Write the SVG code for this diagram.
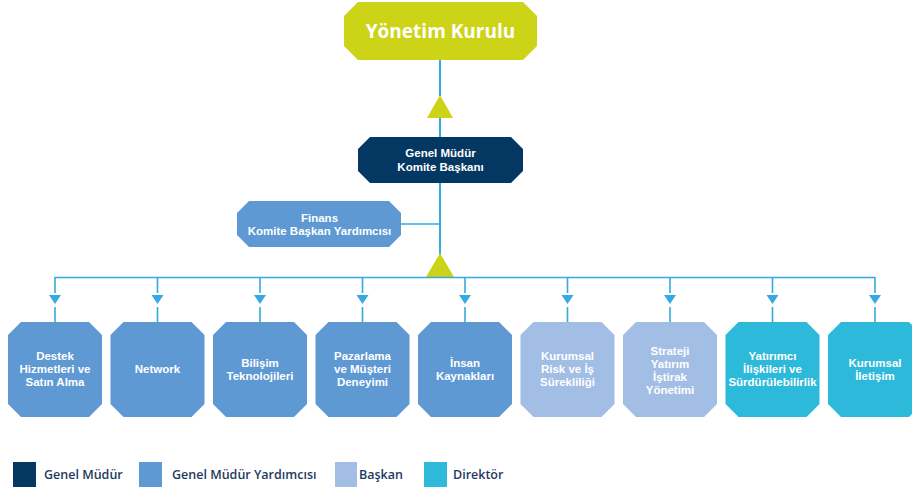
<svg xmlns="http://www.w3.org/2000/svg" width="912" height="493" viewBox="0 0 912 493">
<defs>
<style>
.ln{stroke:#35a9e1;stroke-width:2;fill:none}
.lh{stroke:#35a9e1;stroke-width:1.6;fill:none}
.arr{fill:#35a9e1}
.yk{fill:#cdd418}
.gm{fill:#043862}
.gmy{fill:#5e99d3}
.bk{fill:#a3bee4}
.dr{fill:#2cb9da}
.t{font-family:"Liberation Sans","Arimo",sans-serif;font-weight:700;fill:#ffffff;text-anchor:middle}
.tt{font-family:"Open Sans","Noto Sans","Liberation Sans",sans-serif;font-weight:700;fill:#ffffff;text-anchor:middle}
.bx{font-size:11.5px}
.lg{font-family:"Open Sans","Noto Sans","Liberation Sans",sans-serif;font-weight:600;font-size:12.5px;fill:#1e3a60}
</style>
</defs>
<rect width="912" height="493" fill="#ffffff"/>
<g id="connectors">
<line class="ln" x1="440" y1="60" x2="440" y2="96"/>
<line class="ln" x1="440" y1="117" x2="440" y2="137"/>
<line class="ln" x1="440" y1="183" x2="440" y2="256"/>
<line class="lh" x1="401" y1="224" x2="440" y2="224"/>
<polygon class="yk" points="440,95 453,118 427,118"/>
<polygon class="yk" points="440,253 454,277 426,277"/>
<line class="lh" x1="55" y1="277.5" x2="875" y2="277.5"/>
<g id="drops">
<line class="lh" x1="55" y1="277" x2="55" y2="293"/><polygon class="arr" points="49,295 61,295 55,304"/><line class="lh" x1="55" y1="307" x2="55" y2="322"/>
<line class="lh" x1="157.5" y1="277" x2="157.5" y2="293"/><polygon class="arr" points="151.5,295 163.5,295 157.5,304"/><line class="lh" x1="157.5" y1="307" x2="157.5" y2="322"/>
<line class="lh" x1="260" y1="277" x2="260" y2="293"/><polygon class="arr" points="254,295 266,295 260,304"/><line class="lh" x1="260" y1="307" x2="260" y2="322"/>
<line class="lh" x1="362.5" y1="277" x2="362.5" y2="293"/><polygon class="arr" points="356.5,295 368.5,295 362.5,304"/><line class="lh" x1="362.5" y1="307" x2="362.5" y2="322"/>
<line class="lh" x1="465" y1="277" x2="465" y2="293"/><polygon class="arr" points="459,295 471,295 465,304"/><line class="lh" x1="465" y1="307" x2="465" y2="322"/>
<line class="lh" x1="567.5" y1="277" x2="567.5" y2="293"/><polygon class="arr" points="561.5,295 573.5,295 567.5,304"/><line class="lh" x1="567.5" y1="307" x2="567.5" y2="322"/>
<line class="lh" x1="670" y1="277" x2="670" y2="293"/><polygon class="arr" points="664,295 676,295 670,304"/><line class="lh" x1="670" y1="307" x2="670" y2="322"/>
<line class="lh" x1="772.5" y1="277" x2="772.5" y2="293"/><polygon class="arr" points="766.5,295 778.5,295 772.5,304"/><line class="lh" x1="772.5" y1="307" x2="772.5" y2="322"/>
<line class="lh" x1="875" y1="277" x2="875" y2="293"/><polygon class="arr" points="869,295 881,295 875,304"/><line class="lh" x1="875" y1="307" x2="875" y2="322"/>
</g>
</g>
<g id="yonetim-kurulu">
<polygon class="yk" points="358,2 523,2 537,16 537,46 523,60 358,60 344,46 344,16"/>
<text class="tt" x="440.5" y="38" font-size="19">Yönetim Kurulu</text>
</g>
<g id="genel-mudur">
<polygon class="gm" points="370,137 511,137 523,149 523,171 511,183 370,183 358,171 358,149"/>
<text class="t" x="440.5" y="157" font-size="11.5">Genel Müdür</text>
<text class="t" x="440.5" y="171" font-size="11.5">Komite Başkanı</text>
</g>
<g id="finans">
<polygon class="gmy" points="249,201 389,201 401,213 401,235 389,247 249,247 237,235 237,213"/>
<text class="t" x="319.5" y="222" font-size="11.5">Finans</text>
<text class="t" x="319.5" y="235" font-size="11.5">Komite Başkan Yardımcısı</text>
</g>
<g id="destek">
<polygon class="gmy" points="21,322 89,322 102,335 102,404 89,417 21,417 8,404 8,335"/>
<text class="t bx" x="55" y="360">Destek</text>
<text class="t bx" x="55" y="373">Hizmetleri ve</text>
<text class="t bx" x="55" y="386">Satın Alma</text>
</g>
<g id="network">
<polygon class="gmy" points="123.5,322 191.5,322 204.5,335 204.5,404 191.5,417 123.5,417 110.5,404 110.5,335"/>
<text class="t bx" x="157.5" y="373">Network</text>
</g>
<g id="bilisim">
<polygon class="gmy" points="226,322 294,322 307,335 307,404 294,417 226,417 213,404 213,335"/>
<text class="t bx" x="260" y="366.5">Bilişim</text>
<text class="t bx" x="260" y="379.5">Teknolojileri</text>
</g>
<g id="pazarlama">
<polygon class="gmy" points="328.5,322 396.5,322 409.5,335 409.5,404 396.5,417 328.5,417 315.5,404 315.5,335"/>
<text class="t bx" x="362.5" y="360">Pazarlama</text>
<text class="t bx" x="362.5" y="373">ve Müşteri</text>
<text class="t bx" x="362.5" y="386">Deneyimi</text>
</g>
<g id="insan">
<polygon class="gmy" points="431,322 499,322 512,335 512,404 499,417 431,417 418,404 418,335"/>
<text class="t bx" x="465" y="366.5">İnsan</text>
<text class="t bx" x="465" y="379.5">Kaynakları</text>
</g>
<g id="risk">
<polygon class="bk" points="533.5,322 601.5,322 614.5,335 614.5,404 601.5,417 533.5,417 520.5,404 520.5,335"/>
<text class="t bx" x="567.5" y="360">Kurumsal</text>
<text class="t bx" x="567.5" y="373">Risk ve İş</text>
<text class="t bx" x="567.5" y="386">Sürekliliği</text>
</g>
<g id="strateji">
<polygon class="bk" points="636,322 704,322 717,335 717,404 704,417 636,417 623,404 623,335"/>
<text class="t bx" x="670" y="355">Strateji</text>
<text class="t bx" x="670" y="368">Yatırım</text>
<text class="t bx" x="670" y="381">İştirak</text>
<text class="t bx" x="670" y="394">Yönetimi</text>
</g>
<g id="yatirimci">
<polygon class="dr" points="738.5,322 806.5,322 819.5,335 819.5,404 806.5,417 738.5,417 725.5,404 725.5,335"/>
<text class="t bx" x="772.5" y="360">Yatırımcı</text>
<text class="t bx" x="772.5" y="373">İlişkileri ve</text>
<text class="t bx" x="772.5" y="386">Sürdürülebilirlik</text>
</g>
<g id="iletisim">
<polygon class="dr" points="841,322 909,322 922,335 922,404 909,417 841,417 828,404 828,335"/>
<text class="t bx" x="875" y="366.5">Kurumsal</text>
<text class="t bx" x="875" y="379.5">İletişim</text>
</g>
<g id="legend">
<rect class="gm" x="13" y="462" width="23" height="25"/>
<text class="lg" x="44" y="479">Genel Müdür</text>
<rect class="gmy" x="139" y="462" width="23" height="25"/>
<text class="lg" x="172" y="479">Genel Müdür Yardımcısı</text>
<rect class="bk" x="335" y="462" width="22" height="25"/>
<text class="lg" x="359" y="479">Başkan</text>
<rect class="dr" x="424" y="462" width="23" height="25"/>
<text class="lg" x="453" y="479">Direktör</text>
</g>
</svg>
